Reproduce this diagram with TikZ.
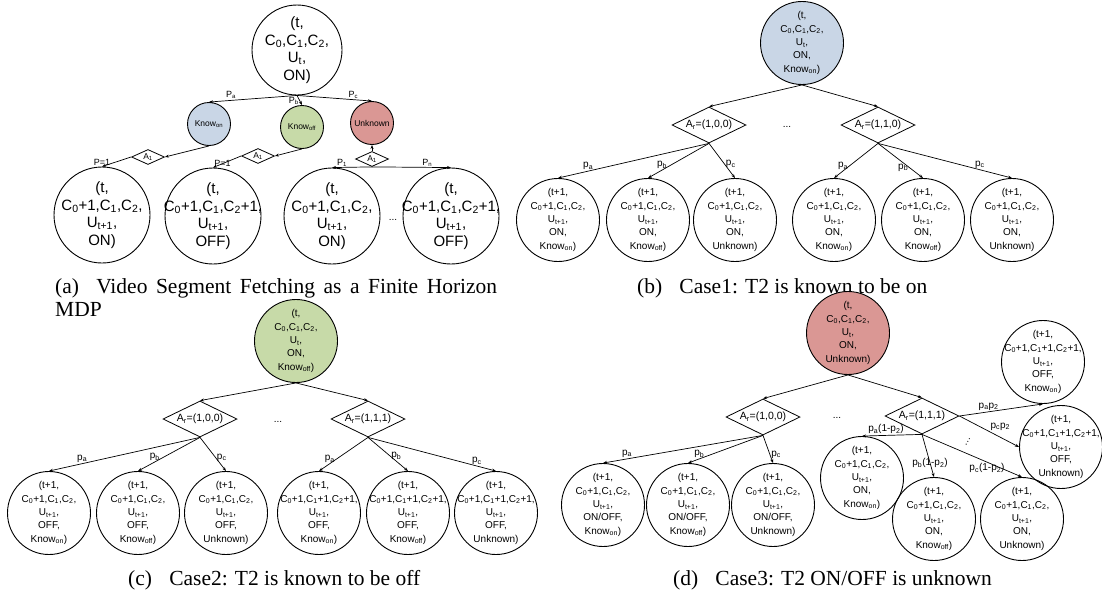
\documentclass[tikz,border=0pt]{standalone}
\usepackage{fontspec}
\setmainfont{Liberation Sans}
\newfontfamily\capfont{Liberation Serif}
\usetikzlibrary{arrows.meta,shapes.geometric}
\newcommand{\sbx}[1]{\textsubscript{#1}}
\definecolor{knowon}{RGB}{201,214,230}
\definecolor{knowoff}{RGB}{199,218,168}
\definecolor{unk}{RGB}{218,151,148}
\tikzset{
  bigstate/.style={circle,draw,line width=0.9pt,align=center,inner sep=-15pt,minimum size=96pt,font=\fontsize{15}{17.5}\selectfont},
  state/.style={circle,draw,line width=0.9pt,align=center,inner sep=-15pt,minimum size=83pt,font=\fontsize{10}{13.3}\selectfont},
  flag/.style={circle,draw,line width=0.9pt,inner sep=-5pt,minimum size=43pt,font=\fontsize{8.5}{10}\selectfont},
  act/.style={diamond,aspect=2,draw,line width=0.8pt,inner sep=0pt,minimum width=74pt,minimum height=36pt,font=\fontsize{10.5}{12}\selectfont},
  smallact/.style={diamond,aspect=2,draw,line width=0.8pt,inner sep=0pt,minimum width=33pt,minimum height=15pt,font=\fontsize{8.5}{10}\selectfont},
  arr/.style={-{Stealth[length=4pt,width=3pt]},line width=0.7pt},
  lbl/.style={font=\fontsize{10}{10}\selectfont,inner sep=1pt},
  alb/.style={font=\fontsize{9}{9}\selectfont,inner sep=1pt},
  captext/.style={font=\capfont\fontsize{21.5}{23}\selectfont,inner sep=0pt,anchor=base west}
}
\begin{document}
\begin{tikzpicture}[x=1pt,y=-1pt]
  \useasboundingbox (0,0) rectangle (1102,600);
  % (a) finite horizon MDP
  \node[bigstate,minimum size=90pt] (aroot) at (297,50) {(t,\\C\sbx{0},C\sbx{1},C\sbx{2},\\U\sbx{t},\\ON)};
  \node[flag,fill=knowon] (akon) at (209,124) {Know\sbx{on}};
  \node[flag,fill=knowoff] (akoff) at (302,127) {Know\sbx{off}};
  \node[flag,fill=unk] (aunk) at (372,123) {Unknown};
  \node[smallact] (aacta) at (148,157) {A\sbx{1}};
  \node[smallact] (aactb) at (258,156) {A\sbx{1}};
  \node[smallact] (aactc) at (372,159) {A\sbx{1}};
  \node[bigstate] (asa) at (102,215) {(t,\\C\sbx{0}+1,C\sbx{1},C\sbx{2},\\U\sbx{t+1},\\ON)};
  \node[bigstate] (asb) at (213,216) {(t,\\C\sbx{0}+1,C\sbx{1},C\sbx{2}+1,\\U\sbx{t+1},\\OFF)};
  \node[bigstate] (asc) at (332,216) {(t,\\C\sbx{0}+1,C\sbx{1},C\sbx{2},\\U\sbx{t+1},\\ON)};
  \node[bigstate] (asd) at (451,216) {(t,\\C\sbx{0}+1,C\sbx{1},C\sbx{2}+1,\\U\sbx{t+1},\\OFF)};
  \node[lbl] (adots) at (393,220) {...};
  \draw[arr] (aroot.south) -- node[alb,pos=0.75,above] {P\sbx{a}} (akon.north);
  \draw[arr] (aroot.south) -- node[alb,pos=0.6,left] {P\sbx{b}} (akoff.north);
  \draw[arr] (aroot.south) -- node[alb,pos=0.75,above] {P\sbx{c}} (aunk.north);
  \draw[arr] (akon.south) -- (aacta.east);
  \draw[arr] (akoff.south) -- (aactb.east);
  \draw[arr] (aactc.north) -- (aunk.south);
  \draw[arr] (aacta.west) -- node[alb,pos=1,above] {P=1} (asa.north);
  \draw[arr] (aactb.west) -- node[alb,pos=1,above right] {P=1} (asb.north);
  \draw[arr] (aactc.south) -- node[alb,pos=0.75,above] {P\sbx{1}} (asc.north);
  \draw[arr] (aactc.south) -- node[alb,pos=0.7,above] {P\sbx{n}} (asd.north);
  \node[captext] (capa) at (55,293) {\makebox[442pt][s]{(a)\hspace{0.8em}Video Segment Fetching as a Finite Horizon}};
  \node[captext] (capb) at (55,316) {MDP};

  % (b) T2 known to be on
  \node[state,fill=knowon] (broot) at (802,43) {(t,\\C\sbx{0},C\sbx{1},C\sbx{2},\\U\sbx{t},\\ON,\\Know\sbx{on})};
  \node[act] (bacta) at (709,125) {A\sbx{r}=(1,0,0)};
  \node[act] (bactb) at (878,125) {A\sbx{r}=(1,1,0)};
  \node[lbl] (bdots) at (787,127) {...};
  \node[state] (bsa) at (558,220) {(t+1,\\C\sbx{0}+1,C\sbx{1},C\sbx{2},\\U\sbx{t+1},\\ON,\\Know\sbx{on})};
  \node[state] (bsb) at (648,220) {(t+1,\\C\sbx{0}+1,C\sbx{1},C\sbx{2},\\U\sbx{t+1},\\ON,\\Know\sbx{off})};
  \node[state] (bsc) at (735,220) {(t+1,\\C\sbx{0}+1,C\sbx{1},C\sbx{2},\\U\sbx{t+1},\\ON,\\Unknown)};
  \node[state] (bsd) at (834,220) {(t+1,\\C\sbx{0}+1,C\sbx{1},C\sbx{2},\\U\sbx{t+1},\\ON,\\Know\sbx{on})};
  \node[state] (bse) at (923,220) {(t+1,\\C\sbx{0}+1,C\sbx{1},C\sbx{2},\\U\sbx{t+1},\\ON,\\Know\sbx{off})};
  \node[state] (bsf) at (1012,220) {(t+1,\\C\sbx{0}+1,C\sbx{1},C\sbx{2},\\U\sbx{t+1},\\ON,\\Unknown)};
  \draw[arr] (broot.south) -- (bacta.north);
  \draw[arr] (broot.south) -- (bactb.north);
  \draw[arr] (bacta.south) -- node[lbl,pos=0.8,above] {p\sbx{a}} (bsa.north);
  \draw[arr] (bacta.south) -- node[lbl,pos=0.77,above] {p\sbx{b}} (bsb.north);
  \draw[arr] (bacta.south) -- node[lbl,pos=0.6,right] {p\sbx{c}} (bsc.north);
  \draw[arr] (bactb.south) -- node[lbl,pos=0.65,left] {p\sbx{a}} (bsd.north);
  \draw[arr] (bactb.south) -- node[lbl,pos=0.7,left] {p\sbx{b}} (bse.north);
  \draw[arr] (bactb.south) -- node[lbl,pos=0.76,above] {p\sbx{c}} (bsf.north);
  \node[captext] (capc) at (637,293) {(b)\hspace{0.8em}Case1: T2 is known to be on};

  % (c) T2 known to be off
  \node[state,fill=knowoff] (croot) at (296,341) {(t,\\C\sbx{0},C\sbx{1},C\sbx{2},\\U\sbx{t},\\ON,\\Know\sbx{off})};
  \node[act] (cacta) at (200,419) {A\sbx{r}=(1,0,0)};
  \node[act] (cactb) at (368,419) {A\sbx{r}=(1,1,1)};
  \node[lbl] (cdots) at (278,422) {...};
  \node[state] (csa) at (49,513) {(t+1,\\C\sbx{0}+1,C\sbx{1},C\sbx{2},\\U\sbx{t+1},\\OFF,\\Know\sbx{on})};
  \node[state] (csb) at (138,513) {(t+1,\\C\sbx{0}+1,C\sbx{1},C\sbx{2},\\U\sbx{t+1},\\OFF,\\Know\sbx{off})};
  \node[state] (csc) at (226,513) {(t+1,\\C\sbx{0}+1,C\sbx{1},C\sbx{2},\\U\sbx{t+1},\\OFF,\\Unknown)};
  \node[state] (csd) at (319,513) {(t+1,\\C\sbx{0}+1,C\sbx{1}+1,C\sbx{2}+1,\\U\sbx{t+1},\\OFF,\\Know\sbx{on})};
  \node[state] (cse) at (408,513) {(t+1,\\C\sbx{0}+1,C\sbx{1}+1,C\sbx{2}+1,\\U\sbx{t+1},\\OFF,\\Know\sbx{off})};
  \node[state] (csf) at (496,513) {(t+1,\\C\sbx{0}+1,C\sbx{1}+1,C\sbx{2}+1,\\U\sbx{t+1},\\OFF,\\Unknown)};
  \draw[arr] (croot.south) -- (cacta.north);
  \draw[arr] (croot.south) -- (cactb.north);
  \draw[arr] (cacta.south) -- node[lbl,pos=0.78,above] {p\sbx{a}} (csa.north);
  \draw[arr] (cacta.south) -- node[lbl,pos=0.73,above] {p\sbx{b}} (csb.north);
  \draw[arr] (cacta.south) -- node[lbl,pos=0.6,right] {p\sbx{c}} (csc.north);
  \draw[arr] (cactb.south) -- node[lbl,pos=0.65,left] {p\sbx{a}} (csd.north);
  \draw[arr] (cactb.south) -- node[lbl,pos=0.55,right] {p\sbx{b}} (cse.north);
  \draw[arr] (cactb.south) -- node[lbl,pos=0.85,above] {p\sbx{c}} (csf.north);
  \node[captext] (capd) at (128,585) {(c)\hspace{0.8em}Case2: T2 is known to be off};

  % (d) T2 ON/OFF unknown
  \node[state,fill=unk] (droot) at (848,333) {(t,\\C\sbx{0},C\sbx{1},C\sbx{2},\\U\sbx{t},\\ON,\\Unknown)};
  \node[act] (dacta) at (763,417) {A\sbx{r}=(1,0,0)};
  \node[act] (dactb) at (922,416) {A\sbx{r}=(1,1,1)};
  \node[lbl] (ddots) at (837,418) {...};
  \node[state] (dsa) at (603,505) {(t+1,\\C\sbx{0}+1,C\sbx{1},C\sbx{2},\\U\sbx{t+1},\\ON/OFF,\\Know\sbx{on})};
  \node[state] (dsb) at (688,505) {(t+1,\\C\sbx{0}+1,C\sbx{1},C\sbx{2},\\U\sbx{t+1},\\ON/OFF,\\Know\sbx{off})};
  \node[state] (dsc) at (773,505) {(t+1,\\C\sbx{0}+1,C\sbx{1},C\sbx{2},\\U\sbx{t+1},\\ON/OFF,\\Unknown)};
  \node[state] (dtop) at (1043,362) {(t+1,\\C\sbx{0}+1,C\sbx{1}+1,C\sbx{2}+1,\\U\sbx{t+1},\\OFF,\\Know\sbx{on})};
  \node[state] (dright) at (1061,447) {(t+1,\\C\sbx{0}+1,C\sbx{1}+1,C\sbx{2}+1,\\U\sbx{t+1},\\OFF,\\Unknown)};
  \node[state] (dlow) at (862,478) {(t+1,\\C\sbx{0}+1,C\sbx{1},C\sbx{2},\\U\sbx{t+1},\\ON,\\Know\sbx{on})};
  \node[state] (dmid) at (934,519) {(t+1,\\C\sbx{0}+1,C\sbx{1},C\sbx{2},\\U\sbx{t+1},\\ON,\\Know\sbx{off})};
  \node[state] (dfar) at (1022,519) {(t+1,\\C\sbx{0}+1,C\sbx{1},C\sbx{2},\\U\sbx{t+1},\\ON,\\Unknown)};
  \node[lbl,rotate=60] (dvdots) at (968,442) {\char"2026};
  \draw[arr] (droot.south) -- (dacta.north);
  \draw[arr] (droot.south) -- (dactb.north);
  \draw[arr] (dacta.south) -- node[lbl,pos=0.85,above] {p\sbx{a}} (dsa.north);
  \draw[arr] (dacta.south) -- node[lbl,pos=0.85,above] {p\sbx{b}} (dsb.north);
  \draw[arr] (dacta.south) -- node[lbl,pos=0.7,right] {p\sbx{c}} (dsc.north);
  \draw[arr] (dactb.east) -- node[lbl,pos=0.35,above] {p\sbx{a}p\sbx{2}} (dtop.south);
  \draw[arr] (dactb.east) -- node[lbl,pos=0.5,above right] {p\sbx{c}p\sbx{2}} (dright.west);
  \draw[arr] (dactb.south) -- node[lbl,pos=0.6,above] {p\sbx{a}(1-p\sbx{2})} (dlow.north);
  \draw[arr] (dactb.south) -- node[lbl,pos=0.67] {p\sbx{b}(1-p\sbx{2})} (dmid.north);
  \draw[arr] (dactb.south) -- node[lbl,pos=0.65,below] {p\sbx{c}(1-p\sbx{2})} (dfar.north);
  \node[captext] (cape) at (673,585) {(d)\hspace{0.8em}Case3: T2 ON/OFF is unknown};
\end{tikzpicture}
\end{document}
